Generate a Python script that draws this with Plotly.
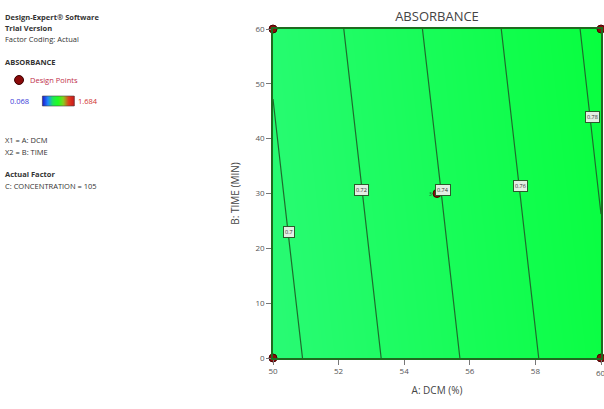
import plotly.graph_objects as go

# ---- data ----
dcm = [50, 55, 60]            # A: DCM (%)
time = [0, 30, 60]            # B: TIME (MIN)
absorb = [                    # rows follow time, columns follow dcm
    [0.6925, 0.7342, 0.7758],
    [0.6973, 0.7389, 0.7806],
    [0.7020, 0.7437, 0.7853],
]
levels = [0.70, 0.72, 0.74, 0.76, 0.78]
level_labels = ["0.7", "0.72", "0.74", "0.76", "0.78"]
label_x = [50.49, 52.71, 55.18, 57.56, 59.73]
label_y = [23.0, 30.6, 30.6, 31.4, 44.0]
design_x = [50, 50, 60, 60, 55]
design_y = [0, 60, 0, 60, 30]
x_ticks = [50, 52, 54, 56, 58]
x_last_tick = 60
y_ticks = [0, 10, 20, 30, 40, 50, 60]

W, H = 604, 409
ML, MR, MT, MB = 273, 1, 29, 51
PW, PH = W - ML - MR, H - MT - MB

def px(x):  # pixel -> paper x
    return (x - ML) / PW

def py(y):  # pixel -> paper y
    return (H - MB - y) / PH

LF = "Open Sans"

fig = go.Figure()
fig.add_trace(go.Contour(
    x=dcm, y=time, z=absorb,
    colorscale=[[0, "rgb(42,250,118)"], [1, "rgb(6,255,60)"]],
    contours=dict(start=levels[0], end=levels[-1], size=0.02, coloring="heatmap"),
    line=dict(color="#1f6a2c", width=1.2),
    showscale=False, hoverinfo="skip",
))
fig.add_trace(go.Scatter(
    x=design_x, y=design_y, mode="markers",
    marker=dict(size=8, color="#8a0a0a", line=dict(color="#4a0000", width=1)),
    cliponaxis=False, showlegend=False,
))

# contour labels
for lx, ly, t in zip(label_x, label_y, level_labels):
    fig.add_annotation(x=lx, y=ly, text=t, showarrow=False,
                       font=dict(size=5.5, color="#333", family=LF),
                       bgcolor="rgb(228,238,228)", bordercolor="#2d5a2d",
                       borderwidth=1, borderpad=1)
fig.add_annotation(x=design_x[4], y=design_y[4], text="3", showarrow=False,
                   xshift=-7, font=dict(size=5, color="#333"))

# last x tick label (partly cut by the page edge, as in the original)
fig.add_annotation(x=x_last_tick, xref="x", yref="paper", y=py(372), text=str(x_last_tick),
                   showarrow=False, xanchor="center", yanchor="middle",
                   font=dict(size=8, color="#555", family=LF))

# left info panel
def txt(x, y, s, size=7.5, color="#333", bold=False):
    fig.add_annotation(xref="paper", yref="paper", x=px(x), y=py(y),
                       text=f"<b>{s}</b>" if bold else s, showarrow=False,
                       xanchor="left", yanchor="middle",
                       font=dict(size=size, color=color, family=LF))

txt(1, 17, "Design-Expert® Software", bold=True)
txt(1, 28, "Trial Version", bold=True)
txt(1, 39, "Factor Coding: Actual")
txt(1, 62, "ABSORBANCE", bold=True)
txt(27, 80, "Design Points", color="#c0304a")
txt(6, 101, "0.068", color="#3a3ad8")
txt(75, 101, "1.684", color="#d03030")
txt(1, 140, "X1 = A: DCM")
txt(1, 152, "X2 = B: TIME")
txt(1, 174, "Actual Factor", bold=True)
txt(1, 186, "C: CONCENTRATION = 105")

# legend marker
fig.add_shape(type="circle", xref="paper", yref="paper",
              x0=px(13), x1=px(22), y0=py(84.5), y1=py(75.5),
              fillcolor="#8a0a0a", line=dict(color="#3a0000", width=1))

# gradient bar (blue -> green -> red)
bar_cols = [(0, 0, 200), (0, 120, 255), (0, 230, 60), (0, 255, 0), (120, 200, 0), (220, 40, 0), (200, 0, 0)]
n = 32
x0b, x1b = 41, 73
for i in range(n):
    f = i / (n - 1) * (len(bar_cols) - 1)
    k = min(int(f), len(bar_cols) - 2)
    t = f - k
    c = [round(bar_cols[k][j] * (1 - t) + bar_cols[k + 1][j] * t) for j in range(3)]
    xa = x0b + (x1b - x0b) * i / n
    xb = x0b + (x1b - x0b) * (i + 1) / n
    fig.add_shape(type="rect", xref="paper", yref="paper",
                  x0=px(xa), x1=px(xb + 0.3), y0=py(106), y1=py(96),
                  fillcolor=f"rgb({c[0]},{c[1]},{c[2]})", line=dict(width=0))
fig.add_shape(type="rect", xref="paper", yref="paper",
              x0=px(x0b), x1=px(x1b), y0=py(106), y1=py(96),
              line=dict(color="#444", width=0.6))

fig.update_layout(
    width=W, height=H,
    margin=dict(l=ML, r=MR, t=MT, b=MB),
    paper_bgcolor="white", plot_bgcolor="white",
    showlegend=False,
    title=dict(text="ABSORBANCE", xref="paper", x=px(438), xanchor="center",
               yref="container", y=1 - 16 / H, yanchor="middle",
               font=dict(size=13, color="#444", family=LF)),
    xaxis=dict(range=[50, 60], tickvals=x_ticks + [x_last_tick], ticktext=[str(v) for v in x_ticks] + [""],
               ticks="outside", ticklen=5,
               tickcolor="#777", tickfont=dict(size=8, color="#555", family=LF),
               showgrid=False, zeroline=False, showline=True, linecolor="#1f6a1f",
               linewidth=1.5, mirror=True,
               title=dict(text="A: DCM (%)", font=dict(size=10, color="#444", family=LF), standoff=12)),
    yaxis=dict(range=[0, 60], tickvals=y_ticks, ticks="outside", ticklen=5,
               tickcolor="#777", tickfont=dict(size=8, color="#555", family=LF),
               showgrid=False, zeroline=False, showline=True, linecolor="#1f6a1f",
               linewidth=1.5, mirror=True,
               title=dict(text="B: TIME (MIN)", font=dict(size=10, color="#444", family=LF), standoff=14)),
)

fig.write_html("out.html")
